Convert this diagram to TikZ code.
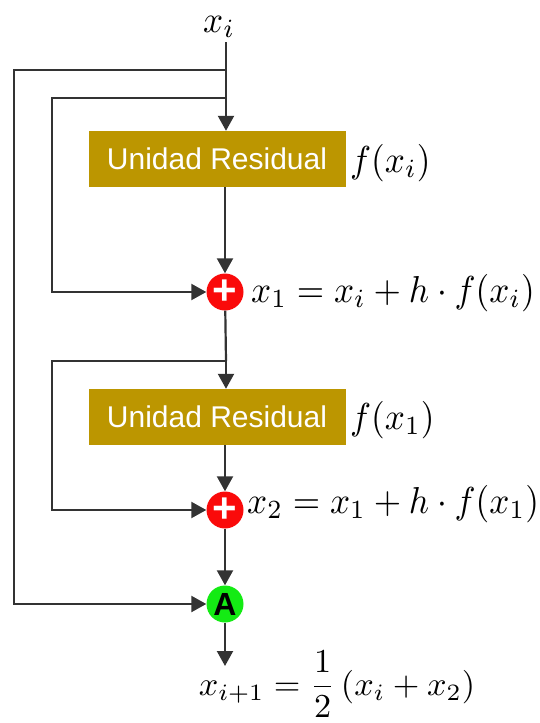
\documentclass[tikz,border=0pt]{standalone}
\usepackage{fontspec}
\setsansfont{Liberation Sans}
\usetikzlibrary{arrows.meta}
\definecolor{boxgold}{RGB}{188,150,0}
\definecolor{wire}{RGB}{51,51,51}
\definecolor{sumred}{RGB}{250,10,10}
\definecolor{avggreen}{RGB}{20,235,20}
% math set at 10pt and enlarged, since the math fonts come in fixed sizes
\newcommand{\bigmath}[1]{\scalebox{3.52}[3.75]{$#1$}}
\begin{document}
\begin{tikzpicture}[x=1pt,y=-1pt,
  wirestyle/.style={draw=wire,line width=2.2pt},
  flow/.style={wirestyle,-{Triangle[width=16pt,length=15pt]}},
  unitbox/.style={fill=boxgold,draw=none,minimum width=257pt,minimum height=56pt,
    text=white,font=\sffamily\fontsize{30}{32}\selectfont,inner sep=0pt},
  sumnode/.style={circle,fill=sumred,draw=none,minimum size=37pt,inner sep=0pt,
    text=white,font=\sffamily\bfseries\fontsize{42}{42}\selectfont},
  avgnode/.style={circle,fill=avggreen,draw=none,minimum size=37pt,inner sep=0pt,
    text=black,font=\sffamily\bfseries\fontsize{32}{32}\selectfont},
  eq/.style={inner sep=0pt,anchor=base west},
]
\useasboundingbox (0,0) rectangle (540,723);

% input
\node[eq] (xin) at (203,32) {\bigmath{x_i}};
\coordinate (top) at (226,42);
\coordinate (s1) at (226,70);
\coordinate (s2) at (226,98);

% residual units
\node[unitbox] (ru1) at (217,159) {Unidad Residual};
\node[eq] (f1) at (350,172) {\bigmath{f(x_i)}};
\node[unitbox] (ru2) at (217,417) {Unidad Residual};
\node[eq] (f2) at (350,429) {\bigmath{f(x_1)}};

% adders and averaging
\node[sumnode] (p1) at (225,292) {+};
\node[eq] (e1) at (251,302) {\bigmath{x_1 = x_i + h\cdot f(x_i)}};
\coordinate (s3) at (226,361);
\node[sumnode] (p2) at (225,510) {+};
\node[eq] (e2) at (247,513) {\bigmath{x_2 = x_1 + h\cdot f(x_1)}};
\node[avgnode] (avg) at (225,604) {A};
\coordinate (out) at (225,666);
\node[eq,anchor=base] (e3) at (337,695) {\scalebox{3.42}[3.35]{$\displaystyle x_{i+1} = \frac{1}{2}\left(x_i + x_2\right)$}};

% main path
\draw[wirestyle] (top) -- (s2);
\draw[flow] (s2) -- (ru1.north -| s2);
\draw[flow] (ru1.south -| p1) -- (p1);
\draw[wirestyle] (p1) -- (s3);
\draw[flow] (s3) -- (ru2.north -| s3);
\draw[flow] (ru2.south -| p2) -- (p2);
\draw[flow] (p2) -- (avg);
\draw[flow] (avg) -- (out);

% skip connections
\draw[flow] (s1) -- (14,70) -- (14,604) -- (avg);
\draw[flow] (s2) -- (52,98) -- (52,292) -- (p1);
\draw[flow] (s3) -- (52,361) -- (52,510) -- (p2);
\end{tikzpicture}
\end{document}
